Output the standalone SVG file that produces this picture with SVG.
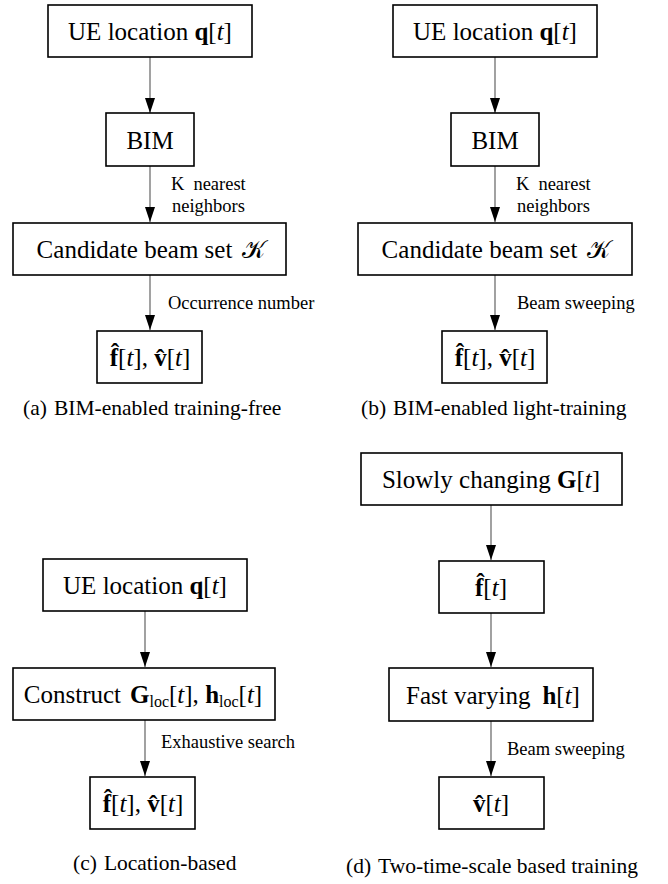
<svg xmlns="http://www.w3.org/2000/svg" width="668" height="884" viewBox="0 0 668 884">
<defs>
<style>
.box{fill:#fff;stroke:#000;stroke-width:1.6}
.t{font-family:"Liberation Serif","Times New Roman",serif;font-size:25px;fill:#000}
.lab{font-family:"Liberation Serif","Times New Roman",serif;font-size:18.5px;fill:#000}
.cap{font-family:"Liberation Serif","Times New Roman",serif;font-size:21.5px;fill:#000}
.b{font-weight:bold}
.i{font-style:italic}
.cal{font-family:"DejaVu Sans","Noto Sans",sans-serif;font-style:normal}
.edge{stroke:#555;stroke-width:1.1;fill:none;marker-end:url(#ah)}
</style>
<marker id="ah" viewBox="0 0 15 10" refX="15" refY="5" markerWidth="15" markerHeight="10" orient="auto" markerUnits="userSpaceOnUse">
<path d="M0,0 L15,5 L0,10 z" fill="#000"/>
</marker>
</defs>
<rect width="668" height="884" fill="#fff"/>

<g id="connectors">
<line class="edge" x1="150" y1="57" x2="150" y2="113"/>
<line class="edge" x1="150" y1="166" x2="150" y2="222"/>
<line class="edge" x1="150" y1="275" x2="150" y2="330"/>
<line class="edge" x1="495" y1="57" x2="495" y2="113"/>
<line class="edge" x1="495" y1="166" x2="495" y2="222"/>
<line class="edge" x1="495" y1="275" x2="495" y2="330"/>
<line class="edge" x1="145" y1="611" x2="145" y2="667"/>
<line class="edge" x1="145" y1="720" x2="145" y2="776"/>
<line class="edge" x1="491" y1="505" x2="491" y2="560"/>
<line class="edge" x1="491" y1="613" x2="491" y2="667"/>
<line class="edge" x1="491" y1="721" x2="491" y2="776"/>
<text class="lab" x="171" y="190">K<tspan dx="9">nearest</tspan></text>
<text class="lab" x="172" y="212">neighbors</text>
<text class="lab" x="168" y="309">Occurrence number</text>
<text class="lab" x="516" y="190">K<tspan dx="9">nearest</tspan></text>
<text class="lab" x="517" y="212">neighbors</text>
<text class="lab" x="517" y="309">Beam sweeping</text>
<text class="lab" x="161" y="748">Exhaustive search</text>
<text class="lab" x="507" y="755">Beam sweeping</text>
</g>

<g id="a-ue">
<rect class="box" x="48" y="5" width="204" height="52"/>
<text class="t" x="150" y="40" text-anchor="middle">UE location <tspan class="b">q</tspan>[<tspan class="i">t</tspan>]</text>
</g>
<g id="a-bim">
<rect class="box" x="106" y="113" width="88" height="53"/>
<text class="t" x="150" y="149" text-anchor="middle">BIM</text>
</g>
<g id="a-cand">
<rect class="box" x="13" y="223" width="273" height="52"/>
<text class="t" x="151" y="258" text-anchor="middle">Candidate beam set<tspan class="cal" dx="10">𝒦</tspan></text>
</g>
<g id="a-out">
<rect class="box" x="97" y="331" width="105" height="52"/>
<text class="t" x="150" y="366" text-anchor="middle"><tspan class="b">f̂</tspan>[<tspan class="i">t</tspan>], <tspan class="b">v̂</tspan>[<tspan class="i">t</tspan>]</text>
</g>
<text id="cap-a" class="cap" x="23" y="415">(a)<tspan dx="7">BIM-enabled training-free</tspan></text>

<g id="b-ue">
<rect class="box" x="393" y="5" width="204" height="52"/>
<text class="t" x="495" y="40" text-anchor="middle">UE location <tspan class="b">q</tspan>[<tspan class="i">t</tspan>]</text>
</g>
<g id="b-bim">
<rect class="box" x="451" y="113" width="88" height="53"/>
<text class="t" x="495" y="149" text-anchor="middle">BIM</text>
</g>
<g id="b-cand">
<rect class="box" x="358" y="223" width="274" height="52"/>
<text class="t" x="496" y="258" text-anchor="middle">Candidate beam set<tspan class="cal" dx="10">𝒦</tspan></text>
</g>
<g id="b-out">
<rect class="box" x="442" y="331" width="105" height="52"/>
<text class="t" x="495" y="366" text-anchor="middle"><tspan class="b">f̂</tspan>[<tspan class="i">t</tspan>], <tspan class="b">v̂</tspan>[<tspan class="i">t</tspan>]</text>
</g>
<text id="cap-b" class="cap" x="361" y="415">(b)<tspan dx="7">BIM-enabled light-training</tspan></text>

<g id="c-ue">
<rect class="box" x="43" y="559" width="204" height="52"/>
<text class="t" x="145" y="594" text-anchor="middle">UE location <tspan class="b">q</tspan>[<tspan class="i">t</tspan>]</text>
</g>
<g id="c-cons">
<rect class="box" x="13" y="668" width="262" height="52"/>
<text class="t" x="143" y="703" text-anchor="middle">Construct<tspan class="b" dx="9">G</tspan><tspan font-size="16" dy="4">loc</tspan><tspan dy="-4">[</tspan><tspan class="i">t</tspan>], <tspan class="b">h</tspan><tspan font-size="16" dy="4">loc</tspan><tspan dy="-4">[</tspan><tspan class="i">t</tspan>]</text>
</g>
<g id="c-out">
<rect class="box" x="90" y="777" width="105" height="52"/>
<text class="t" x="143" y="812" text-anchor="middle"><tspan class="b">f̂</tspan>[<tspan class="i">t</tspan>], <tspan class="b">v̂</tspan>[<tspan class="i">t</tspan>]</text>
</g>
<text id="cap-c" class="cap" x="73" y="870">(c)<tspan dx="7">Location-based</tspan></text>

<g id="d-slow">
<rect class="box" x="361" y="453" width="261" height="52"/>
<text class="t" x="491" y="488" text-anchor="middle">Slowly changing <tspan class="b">G</tspan>[<tspan class="i">t</tspan>]</text>
</g>
<g id="d-f">
<rect class="box" x="439" y="561" width="105" height="52"/>
<text class="t" x="491" y="596" text-anchor="middle"><tspan class="b">f̂</tspan>[<tspan class="i">t</tspan>]</text>
</g>
<g id="d-fast">
<rect class="box" x="389" y="668" width="204" height="53"/>
<text class="t" x="493" y="704" text-anchor="middle">Fast varying<tspan class="b" dx="12">h</tspan>[<tspan class="i">t</tspan>]</text>
</g>
<g id="d-v">
<rect class="box" x="439" y="777" width="105" height="52"/>
<text class="t" x="491" y="812" text-anchor="middle"><tspan class="b">v̂</tspan>[<tspan class="i">t</tspan>]</text>
</g>
<text id="cap-d" class="cap" x="346" y="873">(d)<tspan dx="7">Two-time-scale based training</tspan></text>
</svg>
